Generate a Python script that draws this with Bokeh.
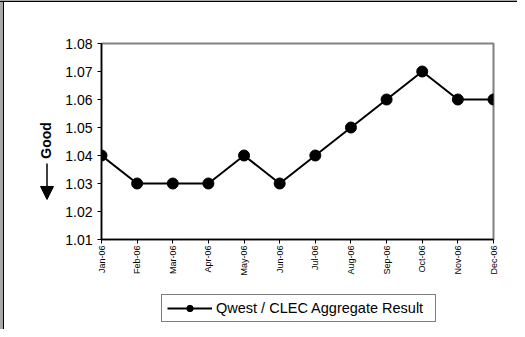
import math
from bokeh.plotting import figure
from bokeh.layouts import row, column
from bokeh.models import Range1d, FixedTicker, Legend, LegendItem, Arrow, NormalHead, Label
from bokeh.embed import file_html
from bokeh.resources import INLINE

months = ["Jan-06", "Feb-06", "Mar-06", "Apr-06", "May-06", "Jun-06",
          "Jul-06", "Aug-06", "Sep-06", "Oct-06", "Nov-06", "Dec-06"]
values = [1.04, 1.03, 1.03, 1.03, 1.04, 1.03, 1.04, 1.05, 1.06, 1.07, 1.06, 1.06]
y_ticks = [1.01, 1.02, 1.03, 1.04, 1.05, 1.06, 1.07, 1.08]
series_name = "Qwest / CLEC Aggregate Result"
y_label = "Good"

xs = list(range(len(months)))
FONT = "Liberation Sans"

W, H_TOP, H_LEG = 517, 285, 44
LW = 56
TOP, BOTTOM = 43, 285 - 239

def bare(fig, transparent=False):
    fig.xgrid.visible = False
    fig.ygrid.visible = False
    fig.outline_line_color = None
    fig.background_fill_color = None if transparent else "white"
    fig.border_fill_color = None

y_range = Range1d(y_ticks[0], y_ticks[-1])

# ---- left strip holding the "Good" label with its arrow ----
side = figure(width=LW, height=H_TOP, output_backend="svg", toolbar_location=None,
              x_range=Range1d(0, LW), y_range=y_range,
              x_axis_location=None, y_axis_location=None,
              min_border_left=0, min_border_right=0,
              min_border_top=TOP, min_border_bottom=BOTTOM)
bare(side, transparent=True)
side.add_layout(Label(x=45, y=1.0454, text=y_label, angle=math.pi / 2,
                      text_align="center", text_baseline="middle",
                      text_font=FONT, text_font_style="bold", text_font_size="14px",
                      text_color="black"))
side.add_layout(Arrow(x_start=46.5, y_start=1.0371, x_end=46.5, y_end=1.0243,
                      line_color="black", line_width=1.5,
                      end=NormalHead(size=13, fill_color="black", line_color="black")))

# ---- main chart ----
p = figure(width=W - LW, height=H_TOP, output_backend="svg", toolbar_location=None,
           x_range=Range1d(0, len(months) - 1), y_range=y_range,
           min_border_left=101 - LW, min_border_top=TOP, min_border_right=24,
           min_border_bottom=BOTTOM)
bare(p)
p.outline_line_color = "#808080"
p.outline_line_width = 2

p.xaxis.ticker = FixedTicker(ticks=xs)
p.xaxis.major_label_overrides = {i: m for i, m in enumerate(months)}
p.xaxis.major_label_orientation = math.pi / 2
p.xaxis.major_label_text_font = FONT
p.xaxis.major_label_text_font_size = "9px"
p.xaxis.major_label_text_color = "black"
p.xaxis.major_tick_out = 4
p.xaxis.major_tick_in = 0
p.xaxis.minor_tick_line_color = None
p.xaxis.axis_line_color = "black"
p.xaxis.axis_line_width = 1.5
p.xaxis.major_label_standoff = 2

p.yaxis.ticker = FixedTicker(ticks=y_ticks)
p.yaxis.major_label_overrides = {t: f"{t:.2f}" for t in y_ticks}
p.yaxis.major_label_text_font = FONT
p.yaxis.major_label_text_font_size = "14px"
p.yaxis.major_label_text_color = "black"
p.yaxis.major_tick_out = 4
p.yaxis.major_tick_in = 0
p.yaxis.minor_tick_line_color = None
p.yaxis.axis_line_color = "black"
p.yaxis.axis_line_width = 1.5
p.yaxis.major_label_standoff = 5

line_style = dict(line_color="black", line_width=2)
marker_style = dict(size=11, fill_color="black", line_color="black")
p.line(xs, values, **line_style)
p.scatter(xs, values, **marker_style)

# ---- legend strip (its renderers lie outside its own view) ----
lf = figure(width=W, height=H_LEG, output_backend="svg", toolbar_location=None,
            x_range=Range1d(-100, -99), y_range=Range1d(-100, -99),
            x_axis_location=None, y_axis_location=None, min_border=0,
            min_border_left=0, min_border_right=0, min_border_top=0, min_border_bottom=0)
bare(lf, transparent=True)
lg_line = lf.line(xs, values, **line_style)
lg_mark = lf.scatter(xs, values, size=9, fill_color="black", line_color="black")
legend = Legend(items=[LegendItem(label=series_name, renderers=[lg_line, lg_mark])],
                location=(161, 7), orientation="horizontal")
legend.border_line_color = "black"
legend.border_line_width = 1
legend.label_text_font = FONT
legend.label_text_font_size = "14.5px"
legend.label_text_color = "black"
legend.glyph_width = 45
legend.glyph_height = 16
legend.label_height = 16
legend.label_width = 214
legend.label_standoff = 4
legend.padding = 5
legend.margin = 0
legend.background_fill_color = "white"
legend.background_fill_alpha = 1
lf.add_layout(legend, "center")

frame_bg = ("linear-gradient(to bottom, #a8a8a8 0px, #a8a8a8 1px, #000000 1px, #000000 2px, "
            "rgba(255,255,255,0) 2px) no-repeat, "
            "linear-gradient(to right, #a8a8a8 0px, #a8a8a8 3px, #000000 3px, #000000 4px, "
            "rgba(255,255,255,0) 4px) no-repeat, white")
layout = column(row(side, p, spacing=0), lf, spacing=0, styles={"background": frame_bg})
html = file_html(layout, INLINE)
open("out.html", "w").write(html)
